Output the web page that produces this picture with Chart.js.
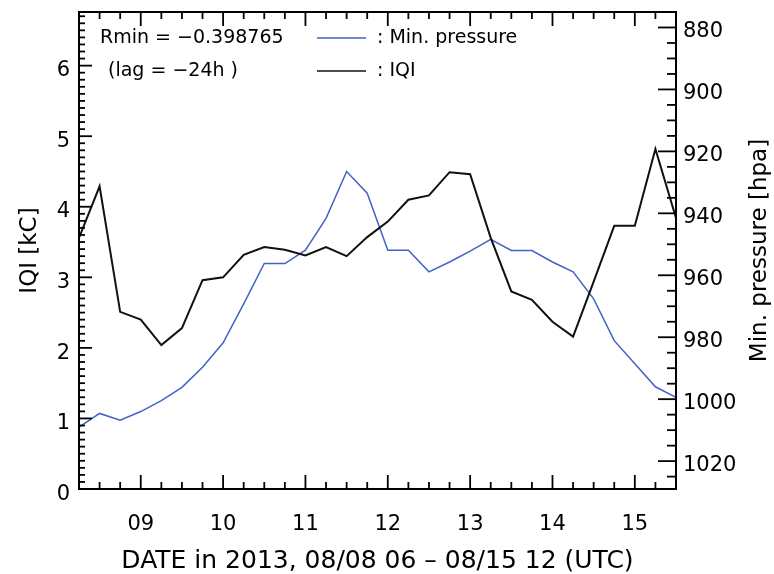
<!DOCTYPE html>
<html>
<head>
<meta charset="utf-8">
<script src="https://cdn.jsdelivr.net/npm/chart.js@4"></script>
<style>
  html, body { margin: 0; padding: 0; background: #fff; }
  canvas { display: block; }
</style>
</head>
<body>
<canvas id="chart" width="774" height="574"></canvas>
<script>
// 6-hourly times, 08/08 06 - 08/15 12 UTC
const times = [
  '08/08 06', '08/08 12', '08/08 18',
  '08/09 00', '08/09 06', '08/09 12', '08/09 18',
  '08/10 00', '08/10 06', '08/10 12', '08/10 18',
  '08/11 00', '08/11 06', '08/11 12', '08/11 18',
  '08/12 00', '08/12 06', '08/12 12', '08/12 18',
  '08/13 00', '08/13 06', '08/13 12', '08/13 18',
  '08/14 00', '08/14 06', '08/14 12', '08/14 18',
  '08/15 00', '08/15 06', '08/15 12'
];
// IQI [kC] (lagged -24h)
const iqi = [
  3.56, 4.29, 2.51, 2.40, 2.04, 2.28, 2.96, 3.00, 3.32, 3.43,
  3.39, 3.31, 3.43, 3.30, 3.57, 3.79, 4.10, 4.16, 4.49, 4.46,
  3.56, 2.80, 2.68, 2.37, 2.16, 2.94, 3.73, 3.73, 4.82, 3.84
];
// Min. pressure [hpa]
const pressure = [
  1009.0, 1004.6, 1006.8, 1004.0, 1000.5, 996.2, 989.7, 981.8, 969.2, 956.2,
  956.2, 951.9, 941.6, 926.5, 933.5, 951.9, 951.9, 958.9, 955.7, 952.2,
  948.4, 952.0, 952.0, 955.7, 958.9, 967.6, 981.1, 988.6, 996.0, 999.4
];
const iqiTicks = [0, 1, 2, 3, 4, 5, 6];
const pressureTicks = [880, 900, 920, 940, 960, 980, 1000, 1020];

const xTitle = 'DATE in 2013, 08/08 06 \u2013 08/15 12 (UTC)';
const rminText = 'Rmin = \u22120.398765';
const lagText = '(lag = \u221224h )';

const FONT = 'DejaVu Sans';
const BLUE = '#4262c6';
Chart.defaults.font.family = FONT;
Chart.defaults.color = '#000';

function line(ctx, x1, y1, x2, y2) {
  ctx.beginPath();
  ctx.moveTo(x1, y1);
  ctx.lineTo(x2, y2);
  ctx.stroke();
}

// frame, inward ticks, legend text and right title
const idlFrame = {
  id: 'idlFrame',
  afterDraw(chart) {
    const { ctx, chartArea: a, scales } = chart;
    ctx.save();
    ctx.strokeStyle = '#000';
    ctx.lineWidth = 2;
    ctx.strokeRect(a.left, a.top, a.width, a.height);

    ctx.lineWidth = 1.8;
    times.forEach((t, i) => {
      const px = scales.x.getPixelForValue(i);
      const len = t.endsWith(' 00') ? 14 : 7;
      line(ctx, px, a.bottom, px, a.bottom - len);
      line(ctx, px, a.top, px, a.top + len);
    });
    for (let k = 0; k <= scales.y.max * 10; k++) {
      const py = scales.y.getPixelForValue(k / 10);
      line(ctx, a.left, py, a.left + (k % 10 === 0 ? 13 : 6), py);
    }
    for (let p = 875; p <= scales.y2.max; p += 5) {
      const py = scales.y2.getPixelForValue(p);
      line(ctx, a.right, py, a.right - (p % 20 === 0 ? 18 : 9), py);
    }

    // legend
    ctx.fillStyle = '#000';
    ctx.font = '19px ' + FONT;
    ctx.textBaseline = 'middle';
    ctx.textAlign = 'left';
    ctx.fillText(rminText, a.left + 21, a.top + 26);
    ctx.fillText(lagText, a.left + 29, a.top + 59);
    ctx.fillText(': Min. pressure', a.left + 298, a.top + 26);
    ctx.fillText(': IQI', a.left + 298, a.top + 59);
    ctx.lineWidth = 1.6;
    ctx.strokeStyle = BLUE;
    line(ctx, a.left + 238, a.top + 26, a.left + 287, a.top + 26);
    ctx.strokeStyle = '#111';
    line(ctx, a.left + 238, a.top + 59, a.left + 287, a.top + 59);

    // right axis title, reads bottom to top
    ctx.translate(760, (a.top + a.bottom) / 2);
    ctx.rotate(-Math.PI / 2);
    ctx.textAlign = 'center';
    ctx.font = '23px ' + FONT;
    ctx.fillText('Min. pressure [hpa]', 0, 0);
    ctx.restore();
  }
};

function noPad(s) {
  s.paddingTop = 0; s.paddingBottom = 0; s.paddingLeft = 0; s.paddingRight = 0;
}

new Chart(document.getElementById('chart').getContext('2d'), {
  type: 'line',
  data: {
    labels: times,
    datasets: [
      { label: 'IQI', data: iqi, yAxisID: 'y', borderColor: '#111', borderWidth: 2, pointRadius: 0, tension: 0 },
      { label: 'Min. pressure', data: pressure, yAxisID: 'y2', borderColor: BLUE, borderWidth: 1.5, pointRadius: 0, tension: 0 }
    ]
  },
  options: {
    responsive: false,
    animation: false,
    layout: { padding: { top: 12, left: 0, right: 0, bottom: 0 } },
    plugins: { legend: { display: false }, tooltip: { enabled: false } },
    scales: {
      x: {
        type: 'category',
        offset: false,
        grid: { display: false, drawTicks: false },
        border: { display: false },
        ticks: {
          autoSkip: false, maxRotation: 0, padding: 23,
          font: { size: 21 },
          callback(v) {
            const t = this.getLabelForValue(v);
            return t.endsWith(' 00') ? t.slice(3, 5) : '';
          }
        },
        title: { display: true, text: xTitle, font: { size: 25, lineHeight: 1 }, padding: { top: 0, bottom: 0 } },
        afterFit(s) { s.height = 85; noPad(s); }
      },
      y: {
        position: 'left',
        min: 0, max: 6.76,
        grid: { display: false, drawTicks: false },
        border: { display: false },
        afterBuildTicks(s) { s.ticks = iqiTicks.map(v => ({ value: v })); },
        ticks: { padding: 9, font: { size: 21, lineHeight: 0.5 }, callback: v => ['', String(v)] },
        title: { display: true, text: 'IQI [kC]', font: { size: 23 }, padding: { top: 16, bottom: 0 } },
        afterFit(s) { s.width = 79; noPad(s); }
      },
      y2: {
        position: 'right',
        reverse: true,
        min: 875, max: 1029,
        grid: { display: false, drawTicks: false },
        border: { display: false },
        afterBuildTicks(s) { s.ticks = pressureTicks.map(v => ({ value: v })); },
        ticks: { padding: 7, font: { size: 21, lineHeight: 0.4 }, callback: v => ['', String(v)] },
        afterFit(s) { s.width = 98; noPad(s); }
      }
    }
  },
  plugins: [idlFrame]
});
</script>
</body>
</html>
